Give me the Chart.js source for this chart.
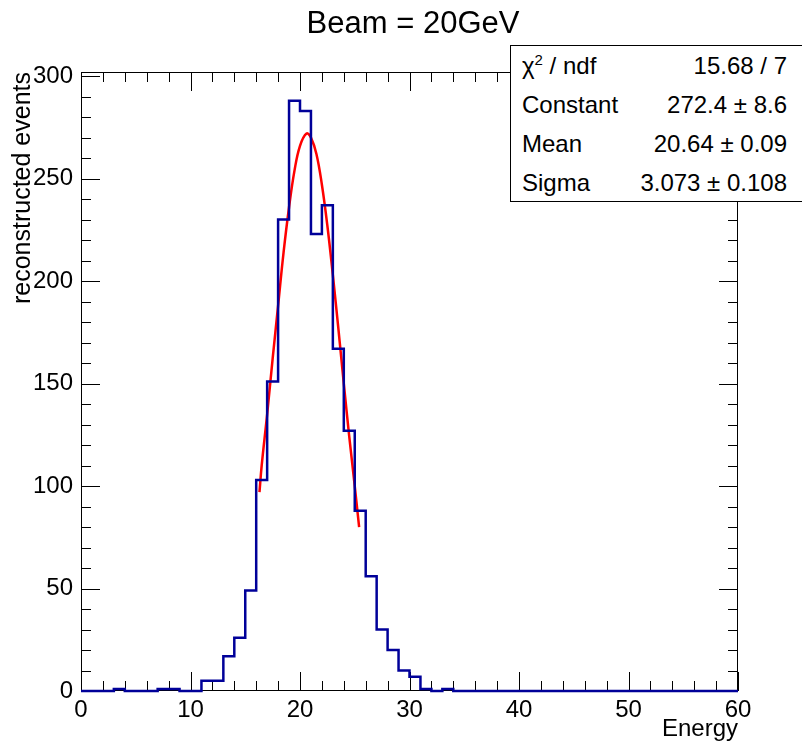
<!DOCTYPE html>
<html lang="en">
  <head>
    <meta charset="UTF-8" />
    <title>Beam = 20GeV</title>
    <script src="https://cdn.jsdelivr.net/npm/chart.js"></script>
    <style>
      body {
        margin: 0;
        background: #fff;
        overflow: hidden;
        font-family: "Liberation Sans", Arial, sans-serif;
      }
      #wrap {
        position: relative;
        width: 802px;
        height: 748px;
        overflow: hidden;
      }
      #title {
        position: absolute;
        left: 413px;
        top: 7px;
        transform: translateX(-50%);
        font-size: 31px;
        line-height: 31px;
        white-space: nowrap;
        color: #000;
      }
      #stats {
        position: absolute;
        left: 510px;
        top: 45px;
        width: 300px;
        height: 157px;
        box-sizing: border-box;
        border: 1px solid #000;
        background: #fff;
        font-size: 24px;
      }
      #stats .row {
        position: relative;
        height: 39px;
        line-height: 39px;
      }
      #stats .name {
        position: absolute;
        left: 11px;
      }
      #stats .val {
        position: absolute;
        left: 0;
        width: 276px;
        text-align: right;
      }
      #stats sup {
        font-size: 15px;
        line-height: 0;
        vertical-align: 9px;
      }
    </style>
  </head>
  <body>
    <div id="wrap">
      <canvas id="histo" width="802" height="748"></canvas>
      <div id="title">Beam = 20GeV</div>
      <div id="stats"></div>
    </div>

    <script>
      // histogram: 60 bins of width 1 from 0 to 60
      const xMin = 0;
      const binWidth = 1;
      const counts = [
        0, 0, 0, 1, 0, 0, 0, 1, 1, 0,
        0, 5, 5, 17, 26, 49, 103, 151, 230, 288,
        283, 223, 237, 167, 127, 88, 56, 30, 20, 10,
        7, 1, 0, 1, 0, 0, 0, 0, 0, 0,
        0, 0, 0, 0, 0, 0, 0, 0, 0, 0,
        0, 0, 0, 0, 0, 0, 0, 0, 0, 0,
      ];

      // gaussian fit curve
      const fitX = [16.3, 16.5, 17, 17.5, 18, 18.5, 19, 19.5, 20, 20.6,
                    21, 21.5, 22, 22.5, 23, 23.5, 24, 24.5, 25, 25.4];
      const fitY = [97, 110, 135, 162, 188, 214, 236, 254, 266, 272,
                    270, 262, 247, 227, 203, 177, 150, 124, 100, 80];

      const xTicks = [0, 10, 20, 30, 40, 50, 60];
      const yTicks = [0, 50, 100, 150, 200, 250, 300];
      const xMax = 60;
      const yMax = 302;

      const statNames = ["χ<sup>2</sup> / ndf", "Constant", "Mean", "Sigma"];
      const statValues = ["15.68 / 7", "272.4 ± 8.6", "20.64 ± 0.09", "3.073 ± 0.108"];

      const stats = document.getElementById("stats");
      statNames.forEach((n, i) => {
        const row = document.createElement("div");
        row.className = "row";
        row.innerHTML =
          '<span class="name">' + n + '</span><span class="val">' + statValues[i] + "</span>";
        stats.appendChild(row);
      });

      const histPoints = counts.map((c, i) => ({ x: xMin + i * binWidth, y: c }));
      histPoints.push({ x: xMin + counts.length * binWidth, y: counts[counts.length - 1] });
      const fitPoints = fitX.map((x, i) => ({ x: x, y: fitY[i] }));

      const FONT = "'Liberation Sans', Arial, sans-serif";

      // ROOT style frame with inner ticks on all four sides
      const frameTicks = {
        id: "frameTicks",
        beforeDatasetsDraw(chart) {
          const { ctx, chartArea: a, scales } = chart;
          const x = scales.x, y = scales.y;
          ctx.save();
          ctx.strokeStyle = "#000";
          ctx.lineWidth = 1;
          ctx.beginPath();
          for (let v = 0; v <= xMax; v += 2) {
            const px = Math.round(x.getPixelForValue(v)) + 0.5;
            const len = v % 10 === 0 ? 19 : 10;
            ctx.moveTo(px, a.bottom);
            ctx.lineTo(px, a.bottom - len);
            ctx.moveTo(px, a.top);
            ctx.lineTo(px, a.top + len);
          }
          for (let v = 0; v <= 300; v += 10) {
            const py = Math.round(y.getPixelForValue(v)) + 0.5;
            const len = v % 50 === 0 ? 19 : 10;
            ctx.moveTo(a.left, py);
            ctx.lineTo(a.left + len, py);
            ctx.moveTo(a.right, py);
            ctx.lineTo(a.right - len, py);
          }
          ctx.stroke();
          ctx.strokeRect(a.left + 0.5, a.top + 0.5, a.right - a.left - 1, a.bottom - a.top - 1);
          ctx.restore();
        },
      };

      new Chart(document.getElementById("histo"), {
        type: "line",
        data: {
          datasets: [
            {
              data: histPoints,
              stepped: "before",
              borderColor: "#000099",
              borderWidth: 2.5,
              pointRadius: 0,
              fill: false,
              clip: false,
            },
            {
              data: fitPoints,
              borderColor: "#ff0000",
              borderWidth: 2.5,
              pointRadius: 0,
              tension: 0.4,
              fill: false,
            },
          ],
        },
        options: {
          responsive: false,
          animation: false,
          devicePixelRatio: 1,
          layout: { padding: { top: 72, right: 64, left: 0, bottom: 0 } },
          plugins: {
            legend: { display: false },
            tooltip: { enabled: false },
          },
          scales: {
            x: {
              type: "linear",
              min: xMin,
              max: xMax,
              afterBuildTicks: (s) => (s.ticks = xTicks.map((v) => ({ value: v }))),
              afterFit: (s) => (s.height = 57),
              ticks: {
                color: "#000",
                font: { family: FONT, size: 24 },
                padding: 5,
                maxRotation: 0,
                autoSkip: false,
              },
              grid: { display: false, drawTicks: false },
              border: { display: false },
              title: {
                display: true,
                text: "Energy",
                align: "end",
                color: "#000",
                font: { family: FONT, size: 24 },
                padding: { top: 0, bottom: 4 },
              },
            },
            y: {
              type: "linear",
              min: 0,
              max: yMax,
              afterBuildTicks: (s) => (s.ticks = yTicks.map((v) => ({ value: v }))),
              afterFit: (s) => (s.width = 81),
              ticks: {
                color: "#000",
                font: { family: FONT, size: 24 },
                padding: 8,
                autoSkip: false,
              },
              grid: { display: false, drawTicks: false },
              border: { display: false },
              title: {
                display: true,
                text: "reconstructed events",
                align: "end",
                color: "#000",
                font: { family: FONT, size: 25 },
                padding: { top: 8, bottom: 0 },
              },
            },
          },
        },
        plugins: [frameTicks],
      });
    </script>
  </body>
</html>
